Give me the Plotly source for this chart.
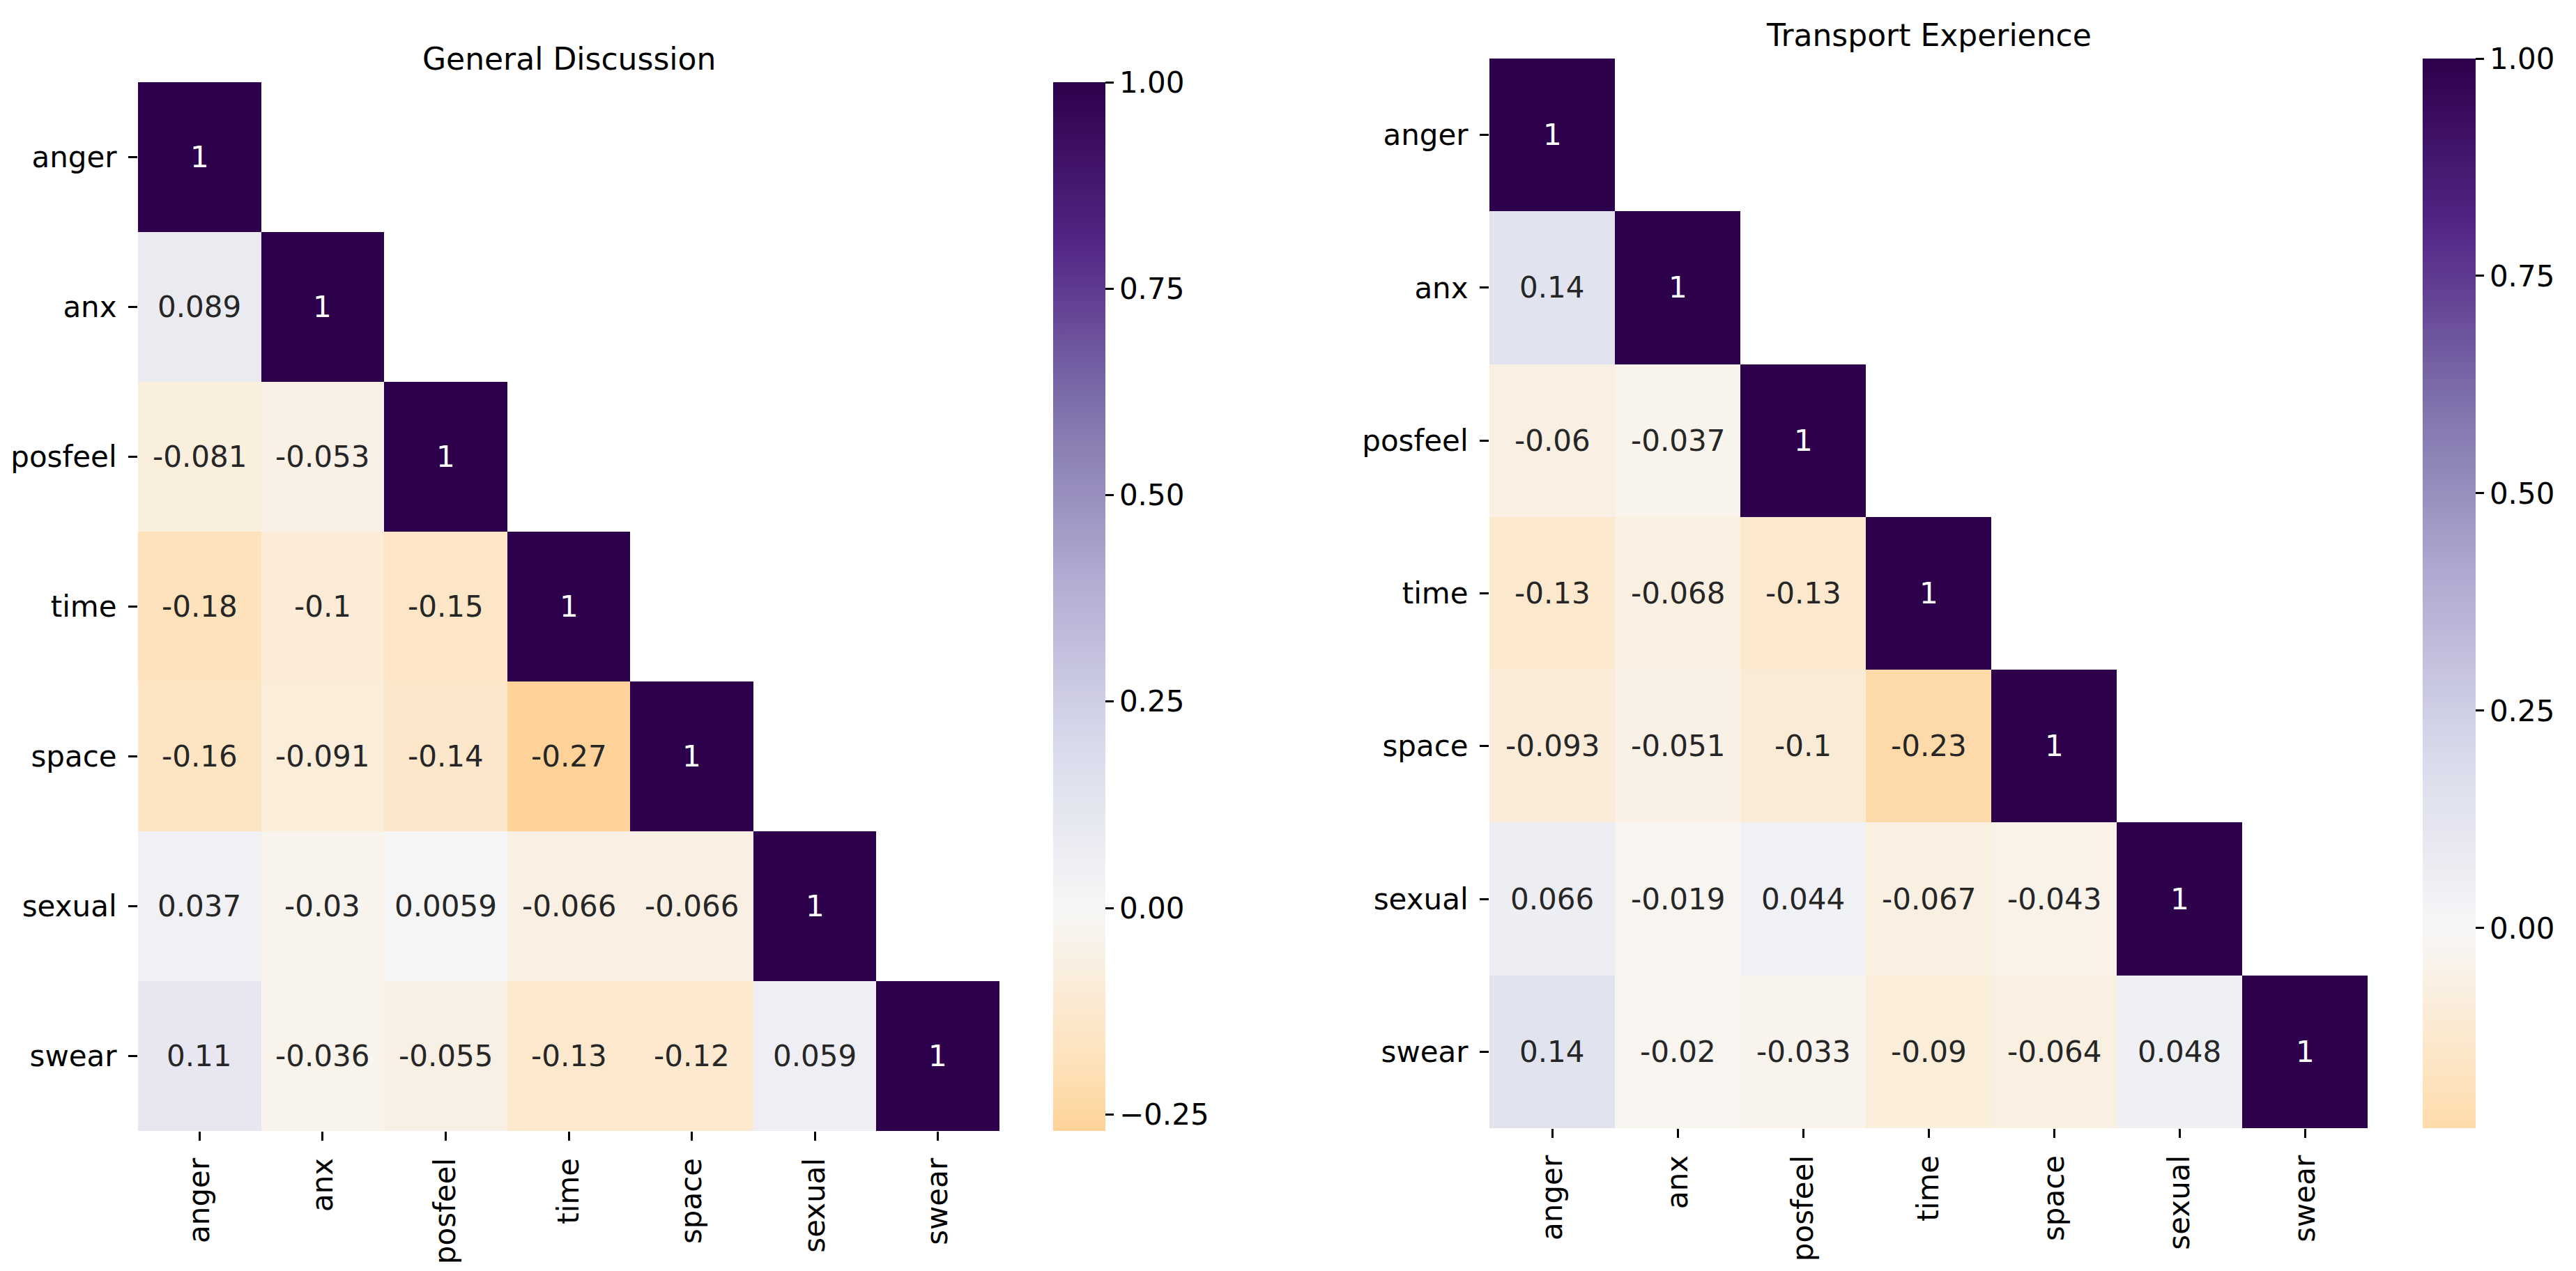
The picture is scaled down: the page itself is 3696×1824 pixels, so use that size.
import plotly.graph_objects as go

# ---------------- data ----------------
labels = ["anger", "anx", "posfeel", "time", "space", "sexual", "swear"]

general_rows = [
    [1],
    [0.089, 1],
    [-0.081, -0.053, 1],
    [-0.18, -0.1, -0.15, 1],
    [-0.16, -0.091, -0.14, -0.27, 1],
    [0.037, -0.03, 0.0059, -0.066, -0.066, 1],
    [0.11, -0.036, -0.055, -0.13, -0.12, 0.059, 1],
]

transport_rows = [
    [1],
    [0.14, 1],
    [-0.06, -0.037, 1],
    [-0.13, -0.068, -0.13, 1],
    [-0.093, -0.051, -0.1, -0.23, 1],
    [0.066, -0.019, 0.044, -0.067, -0.043, 1],
    [0.14, -0.02, -0.033, -0.09, -0.064, 0.048, 1],
]

titles = ["General Discussion", "Transport Experience"]
cbar_ticks = [-0.25, 0.0, 0.25, 0.5, 0.75, 1.0]

# matplotlib PuOr (ColorBrewer 11)
PUOR = [
    (0.4980, 0.2314, 0.0314), (0.7020, 0.3451, 0.0235), (0.8784, 0.5098, 0.0784),
    (0.9922, 0.7216, 0.3882), (0.9961, 0.8784, 0.7137), (0.9686, 0.9686, 0.9686),
    (0.8471, 0.8549, 0.9216), (0.6980, 0.6706, 0.8235), (0.5020, 0.4510, 0.6745),
    (0.3294, 0.1529, 0.5333), (0.1765, 0.0, 0.2941),
]


def puor(p):
    p = min(max(p, 0.0), 1.0)
    f = p * (len(PUOR) - 1)
    i = min(int(f), len(PUOR) - 2)
    t = f - i
    a, b = PUOR[i], PUOR[i + 1]
    return tuple(a[k] + (b[k] - a[k]) * t for k in range(3))


def rgb_str(c):
    return "rgb(%d,%d,%d)" % tuple(round(v * 255) for v in c)


def luminance(c):
    lin = [v / 12.92 if v <= 0.03928 else ((v + 0.055) / 1.055) ** 2.4 for v in c]
    return 0.2126 * lin[0] + 0.7152 * lin[1] + 0.0722 * lin[2]


def centered_scale(vmin, vmax, center=0.0, n=64):
    vr = max(vmax - center, center - vmin)
    lo, hi = center - vr, center + vr
    scale = []
    for k in range(n):
        t = k / (n - 1)
        v = vmin + t * (vmax - vmin)
        scale.append([t, rgb_str(puor((v - lo) / (hi - lo)))])
    return scale, lo, hi


def full_matrix(rows):
    n = len(labels)
    return [[rows[i][j] if j <= i else None for j in range(n)] for i in range(n)]


# ---------------- layout geometry ----------------
W, H = 3696, 1824
panels = [
    dict(rows=general_rows, x=(198 / W, 1434 / W), y=(1 - 1623 / H, 1 - 118 / H),
         cbx=1511 / W, cbth=75),
    dict(rows=transport_rows, x=(2137 / W, 3397 / W), y=(1 - 1619 / H, 1 - 84 / H),
         cbx=3476 / W, cbth=76),
]

FONT = "DejaVu Sans"
FS = 42

fig = go.Figure()
annotations = []
layout = {}

for k, pnl in enumerate(panels):
    sfx = "" if k == 0 else str(k + 1)
    z = full_matrix(pnl["rows"])
    vals = [v for r in pnl["rows"] for v in r]
    vmin, vmax = min(vals), max(vals)
    cs, lo, hi = centered_scale(vmin, vmax)
    fig.add_trace(go.Heatmap(
        z=z, x=labels, y=labels, zmin=vmin, zmax=vmax, colorscale=cs,
        xaxis="x" + sfx, yaxis="y" + sfx, hoverongaps=False,
        colorbar=dict(
            x=pnl["cbx"], xanchor="left", xpad=0, ypad=0,
            y=pnl["y"][1], yanchor="top", len=pnl["y"][1] - pnl["y"][0], lenmode="fraction",
            thickness=pnl["cbth"], thicknessmode="pixels", outlinewidth=0,
            tickvals=cbar_ticks, tickformat=".2f", ticks="outside", ticklen=12,
            tickwidth=3, tickcolor="black",
            tickfont=dict(family=FONT, size=FS, color="black"),
        ),
    ))
    # cell annotations
    for i, row in enumerate(pnl["rows"]):
        for j, v in enumerate(row):
            c = puor((v - lo) / (hi - lo))
            col = "#262626" if luminance(c) > 0.408 else "white"
            annotations.append(dict(
                x=labels[j], y=labels[i], xref="x" + sfx, yref="y" + sfx,
                text=format(v, ".2g"), showarrow=False,
                font=dict(family=FONT, size=FS, color=col),
            ))
    # title
    annotations.append(dict(
        x=(pnl["x"][0] + pnl["x"][1]) / 2, y=pnl["y"][1], xref="paper", yref="paper",
        xanchor="center", yanchor="bottom", yshift=6, showarrow=False,
        text=titles[k], font=dict(family=FONT, size=FS + 2, color="black"),
    ))
    axis_common = dict(
        showgrid=False, zeroline=False, showline=False, ticks="outside",
        ticklen=13, tickwidth=3, tickcolor="black", type="category",
        tickfont=dict(family=FONT, size=FS, color="black"), ticklabelstandoff=8,
    )
    layout["xaxis" + sfx] = dict(axis_common, domain=list(pnl["x"]), anchor="y" + sfx,
                                 tickangle=-90)
    layout["yaxis" + sfx] = dict(axis_common, domain=list(pnl["y"]), anchor="x" + sfx,
                                 autorange="reversed")

fig.update_layout(
    width=W, height=H, autosize=False,
    margin=dict(l=0, r=0, t=0, b=0),
    paper_bgcolor="white", plot_bgcolor="white",
    annotations=annotations, font=dict(family=FONT, size=FS, color="black"),
    **layout,
)

fig.write_html("out.html", config={"displayModeBar": False},
               post_script="document.body.style.margin='0px';")
